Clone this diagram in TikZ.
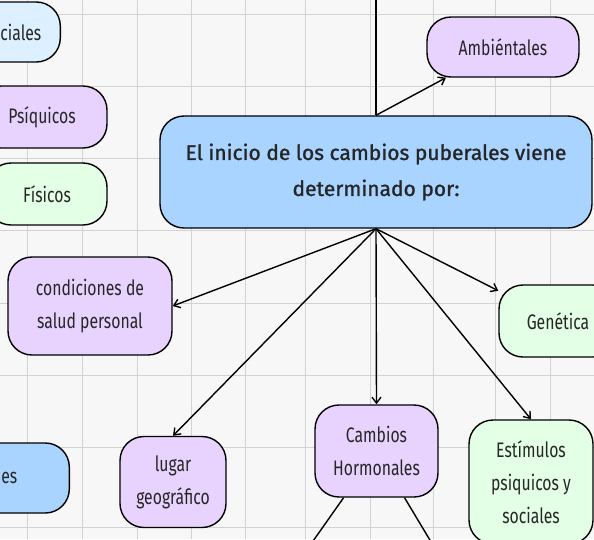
\documentclass[tikz,border=0pt]{standalone}
\usepackage{fontspec}
\setmainfont{Fira Sans}[FakeStretch=0.75]
\newfontfamily\titlefont{Fira Sans}[FakeBold=1.2]
\usetikzlibrary{arrows.meta}
\definecolor{lila}{HTML}{E8D3FF}
\definecolor{menta}{HTML}{E3FFE6}
\definecolor{celeste}{HTML}{DCF0FF}
\definecolor{azul}{HTML}{A8D4FF}
\definecolor{rejilla}{HTML}{D2D2D2}

\begin{document}
\begin{tikzpicture}[x=1pt, y=-1pt,
    caja/.style={draw=black, line width=1.4pt, rounded corners=24pt, align=center,
                 inner sep=0pt, text=black!85, font=\fontsize{21}{33}\selectfont},
    flecha/.style={line width=1.4pt, -{Straight Barb[length=6pt, width=9pt]}},
    linea/.style={line width=1.4pt}]
  \useasboundingbox (0,0) rectangle (594,539);
  \clip (0,0) rectangle (594,539);
  \fill[white!97!black] (0,0) rectangle (594,539);
  \foreach \x in {27,82,137,191,245,305,370,433,495,550}
    \draw[rejilla, line width=0.9pt] (\x,0) -- (\x,539);
  \foreach \y in {14,86,158,230,303,375,447,527}
    \draw[rejilla, line width=0.9pt] (0,\y) -- (594,\y);

  \node[caja, fill=azul, minimum width=432pt, minimum height=112pt,
        font=\titlefont\fontsize{21}{36}\selectfont] (inicio) at (376,172)
    {El inicio de los cambios puberales viene\\determinado por:};

  \node[caja, fill=celeste, anchor=east, text width=100pt, align=right,
        inner xsep=19pt, minimum height=60pt] (sociales) at (61,32) {ciales};
  \node[caja, fill=lila, minimum width=130pt, minimum height=62pt] (psiquicos) at (42,117) {Psíquicos};
  \node[caja, fill=menta, minimum width=120pt, minimum height=62pt] (fisicos) at (47,194) {Físicos};
  \node[caja, fill=lila, minimum width=152pt, minimum height=60pt] (ambientales) at (503,47) {Ambiéntales};
  \node[caja, fill=lila, minimum width=164pt, minimum height=98pt] (salud) at (90,306) {condiciones de\\salud personal};
  \node[caja, fill=menta, minimum width=118pt, minimum height=72pt] (genetica) at (558,321) {Genética};
  \node[caja, fill=lila, minimum width=106pt, minimum height=91pt] (lugar) at (173,482) {lugar\\geográfico};
  \node[caja, fill=lila, minimum width=123pt, minimum height=92pt] (hormonales) at (376.5,451) {Cambios\\Hormonales};
  \node[caja, fill=menta, minimum width=124pt, minimum height=124pt] (estimulos) at (531,482) {Estímulos\\psiquicos y\\sociales};
  \node[caja, fill=azul, anchor=east, text width=100pt, align=right,
        inner xsep=52pt, minimum height=70pt] (otros) at (70,478) {es};

  \coordinate (arriba) at (376,-5);
  \coordinate (abajoizq) at (306,551);
  \coordinate (abajoder) at (436.5,551);

  \draw[linea] (inicio.north) -- (arriba);
  \draw[flecha] (inicio.north) -- (ambientales);
  \draw[flecha] (inicio.south) -- (salud.east);
  \draw[flecha] (inicio.south) -- (lugar.north);
  \draw[flecha] (inicio.south) -- (hormonales.north);
  \draw[flecha] (inicio.south) -- (genetica);
  \draw[flecha] (inicio.south) -- (estimulos.north);
  \draw[linea] (hormonales) -- (abajoizq);
  \draw[linea] (hormonales) -- (abajoder);
\end{tikzpicture}
\end{document}
